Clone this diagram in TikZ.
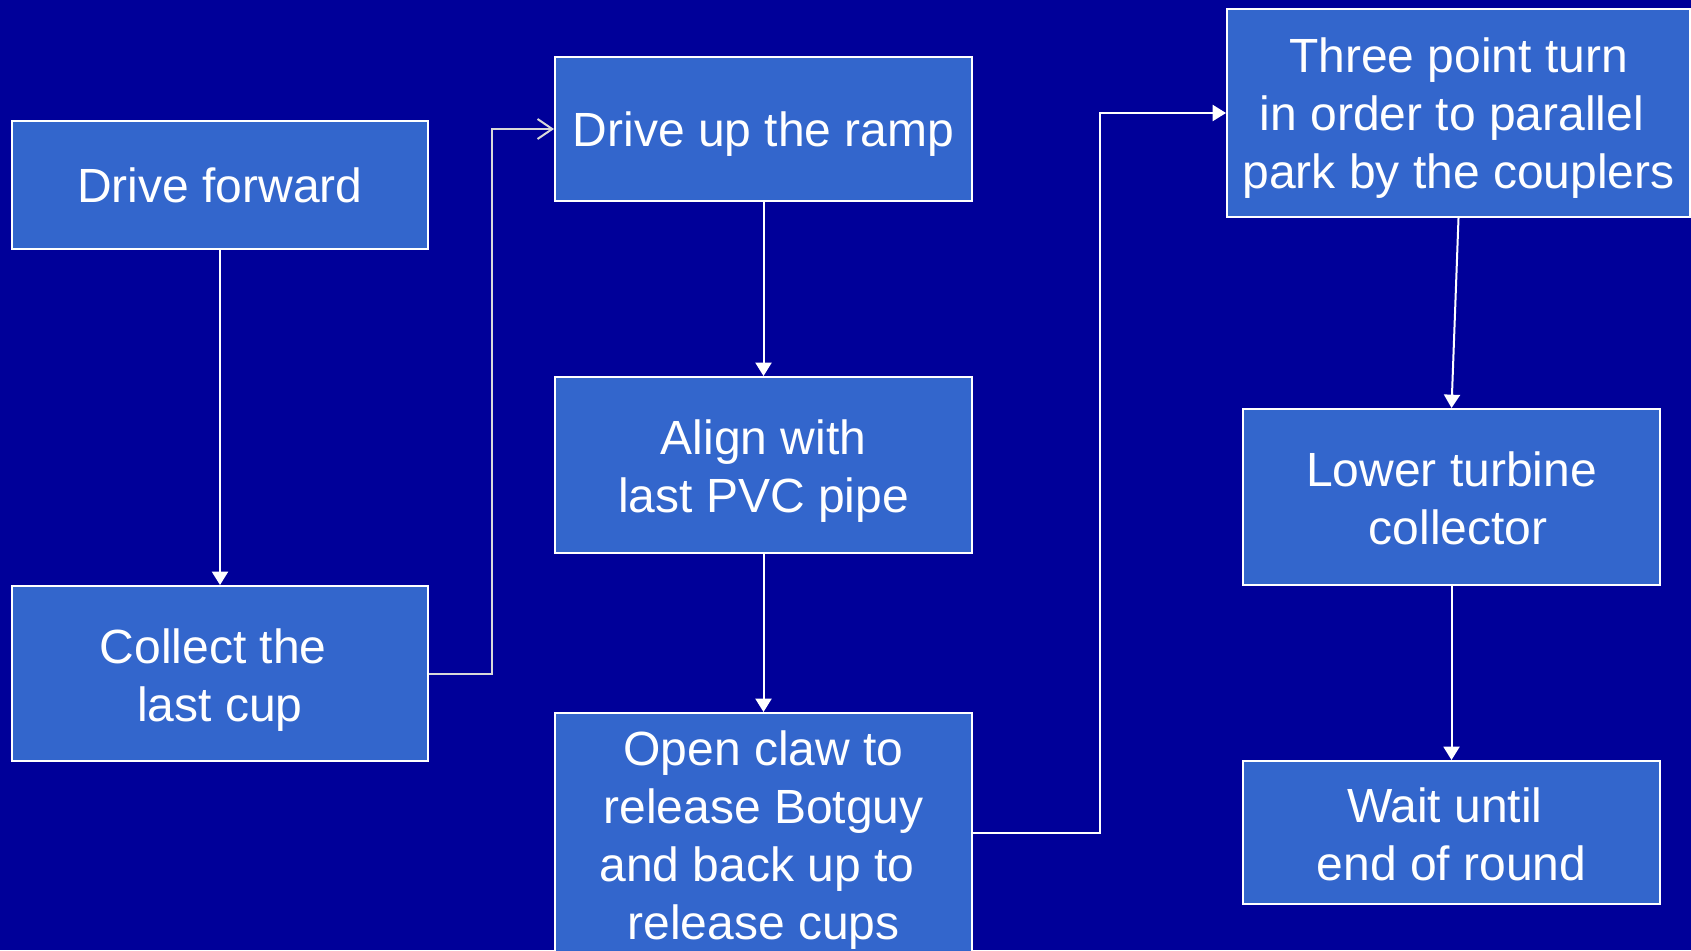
\documentclass[tikz,border=0pt]{standalone}
\usepackage{fontspec}
\setmainfont{Liberation Sans}
\usetikzlibrary{arrows.meta}
\definecolor{bgblue}{HTML}{000099}
\definecolor{boxblue}{HTML}{3366CC}
\definecolor{lgray}{HTML}{D9D9D9}
\tikzset{
  stepbox/.style={draw=white, fill=boxblue, line width=1.5pt, inner sep=0pt},
  steptext/.style={inner sep=0pt, text=white, align=center, font=\fontsize{36}{43.5}\selectfont},
  wlink/.style={draw=white, line width=1.5pt, -{Triangle[width=12pt,length=10pt]}},
  glink/.style={draw=lgray, line width=1.5pt, -{Straight Barb[width=15pt,length=11pt,line width=1.5pt]}}
}
\begin{document}
\begin{tikzpicture}[x=0.75pt,y=-0.75pt]
\useasboundingbox (0,0) rectangle (1691,950);
\clip (0,0) rectangle (1691,950);
\fill[bgblue] (0,0) rectangle (1691,950);
\node[stepbox, minimum width=416*0.75pt, minimum height=128*0.75pt] (drive) at (220,185) {};
\node[stepbox, minimum width=416*0.75pt, minimum height=175*0.75pt] (collect) at (220,673.5) {};
\node[stepbox, minimum width=417*0.75pt, minimum height=144*0.75pt] (ramp) at (763.5,129) {};
\node[stepbox, minimum width=417*0.75pt, minimum height=176*0.75pt] (align) at (763.5,465) {};
\node[stepbox, minimum width=417*0.75pt, minimum height=245*0.75pt] (open) at (763.5,835.5) {};
\node[stepbox, minimum width=463*0.75pt, minimum height=208*0.75pt] (three) at (1458.5,113) {};
\node[stepbox, minimum width=417*0.75pt, minimum height=176*0.75pt] (lower) at (1451.5,497) {};
\node[stepbox, minimum width=417*0.75pt, minimum height=143*0.75pt] (wait) at (1451.5,832.5) {};
\node[steptext] (drivet) at (drive) {Drive forward};
\node[steptext, yshift=-4.8pt] (collectt) at (collect) {Collect the\hphantom{\ } \\ last cup};
\node[steptext, yshift=-4pt] (rampt) at (ramp) {Drive up the ramp};
\node[steptext, yshift=-4.8pt] (alignt) at (align) {Align with \\ last PVC pipe};
\node[steptext, yshift=-3.2pt] (opent) at (open) {Open claw to \\ release Botguy \\ and back up to\hphantom{\ } \\ release cups};
\node[steptext, yshift=-4pt] (threet) at (three) {Three point turn \\ in order to parallel\hphantom{\ } \\ park by the couplers};
\node[steptext, yshift=-0.8pt] (lowert) at (lower) {Lower turbine \\ \hphantom{\ }collector};
\node[steptext, yshift=-1.6pt] (waitt) at (wait) {Wait until\hphantom{\ } \\ end of round};
\coordinate (c1) at (492,0);
\coordinate (c2) at (1100,0);
\draw[wlink] (drive.south) -- (collect.north);
\draw[glink] (collect.east) -- (collect.east -| c1) -- (c1 |- ramp.west) -- (ramp.west);
\draw[wlink] (ramp.south) -- (align.north);
\draw[wlink] (align.south) -- (open.north);
\draw[wlink] ([yshift=2pt]open.east) -- ([yshift=2pt]open.east -| c2) -- (c2 |- three.west) -- (three.west);
\draw[wlink] (three.south) -- (lower.north);
\draw[wlink] (lower.south) -- (wait.north);
\end{tikzpicture}
\end{document}
